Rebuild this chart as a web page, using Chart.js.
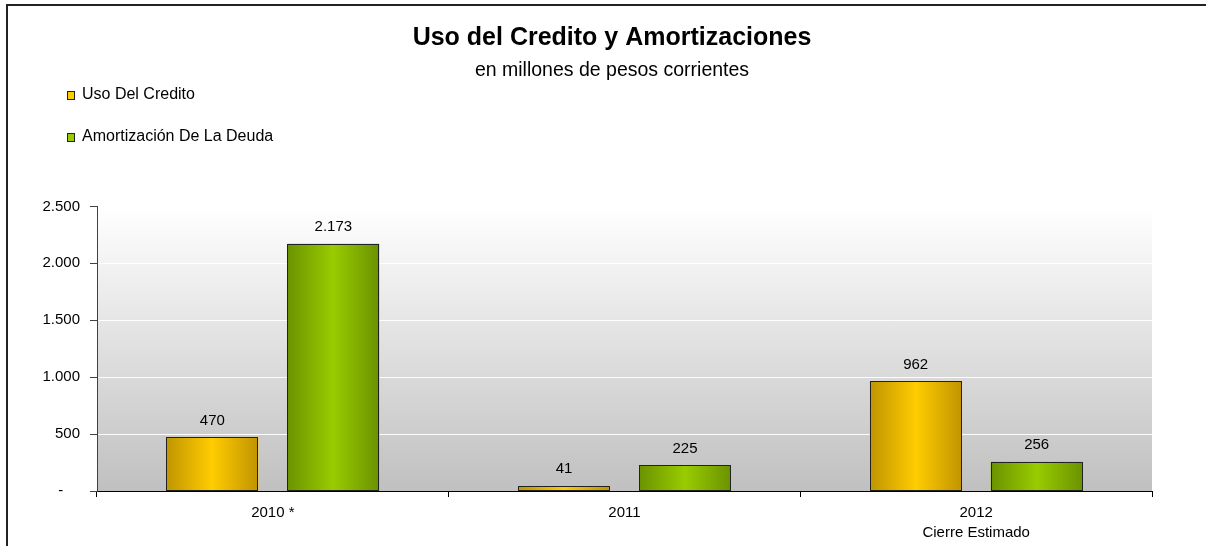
<!DOCTYPE html>
<html>
<head>
<meta charset="utf-8">
<script src="https://cdn.jsdelivr.net/npm/chart.js@4.4.0/dist/chart.umd.min.js"></script>
<style>
  html, body { margin: 0; padding: 0; background: #fff; }
</style>
</head>
<body>
<canvas id="chart" width="1206" height="546"></canvas>
<script>
// data
const years = ['2010 *', '2011', ['2012', 'Cierre Estimado']];
const usoCredito = [470, 41, 962];
const amortizacion = [2173, 225, 256];
const yMax = 2500;
const yStep = 500;

const seriesNames = ['Uso Del Credito', 'Amortización De La Deuda'];
const solid = ['#ffcc00', '#99cc00'];
const shade = [
    ['#c09400', '#ffcc00', '#c09400'],
    ['#6b9200', '#99cc00', '#6b9200']
];

Chart.defaults.font.family = '"Liberation Sans", Arial, sans-serif';
Chart.defaults.color = '#000';

function fmt(v) {
    return String(v).replace(/\B(?=(\d{3})+(?!\d))/g, '.');
}

const paint = {
    id: 'paint',
    afterLayout(chart) {
        // widen the y axis box to the left so its labels are not clipped
        const y = chart.scales.y;
        y.left = 18;
        y.width = y.right - y.left;
    },
    beforeDraw(chart) {
        const ctx = chart.ctx;
        const a = chart.chartArea;
        ctx.save();
        const g = ctx.createLinearGradient(0, a.top, 0, a.bottom);
        g.addColorStop(0, '#ffffff');
        g.addColorStop(1, '#c0c0c0');
        ctx.fillStyle = g;
        ctx.fillRect(a.left, a.top, a.right - a.left, a.bottom - a.top);
        // outer frame, top and left
        ctx.strokeStyle = '#222';
        ctx.lineWidth = 2;
        ctx.beginPath();
        ctx.moveTo(7, chart.height);
        ctx.lineTo(7, 5);
        ctx.lineTo(chart.width, 5);
        ctx.stroke();
        ctx.restore();
    },
    afterDatasetsDraw(chart) {
        const ctx = chart.ctx;
        ctx.save();
        chart.data.datasets.forEach((ds, i) => {
            const meta = chart.getDatasetMeta(i);
            meta.data.forEach((el, j) => {
                const p = el.getProps(['x', 'y', 'base', 'width'], true);
                const left = Math.round(p.x - p.width / 2);
                const w = Math.round(p.width);
                const top = Math.round(p.y);
                const h = Math.round(p.base) - top;
                const g = ctx.createLinearGradient(left, 0, left + w, 0);
                g.addColorStop(0, shade[i][0]);
                g.addColorStop(0.5, shade[i][1]);
                g.addColorStop(1, shade[i][2]);
                ctx.fillStyle = g;
                ctx.fillRect(left, top, w, h);
                ctx.strokeStyle = '#222';
                ctx.lineWidth = 1;
                ctx.strokeRect(left + 0.5, top + 0.5, w - 1, h - 1);

                ctx.fillStyle = '#000';
                ctx.font = '15px "Liberation Sans", Arial, sans-serif';
                ctx.textAlign = 'center';
                ctx.textBaseline = 'middle';
                ctx.fillText(fmt(ds.data[j]), p.x, p.y - 17);
            });
        });
        ctx.restore();
    },
    afterDraw(chart) {
        // legend, stacked in the top-left corner
        const ctx = chart.ctx;
        ctx.save();
        ctx.font = '16px "Liberation Sans", Arial, sans-serif';
        ctx.textAlign = 'left';
        ctx.textBaseline = 'middle';
        chart.data.datasets.forEach((ds, i) => {
            const cy = 95 + i * 42;
            ctx.fillStyle = solid[i];
            ctx.fillRect(67, cy - 4, 8, 9);
            ctx.strokeStyle = '#222';
            ctx.lineWidth = 1;
            ctx.strokeRect(67.5, cy - 3.5, 7, 8);
            ctx.fillStyle = '#000';
            ctx.fillText(ds.label, 82, cy);
        });
        ctx.restore();
    }
};

new Chart(document.getElementById('chart'), {
    type: 'bar',
    data: {
        labels: years,
        datasets: [
            {
                label: seriesNames[0],
                data: usoCredito,
                backgroundColor: solid[0],
                borderWidth: 0,
                categoryPercentage: 0.688,
                barPercentage: 0.76
            },
            {
                label: seriesNames[1],
                data: amortizacion,
                backgroundColor: solid[1],
                borderWidth: 0,
                categoryPercentage: 0.688,
                barPercentage: 0.76
            }
        ]
    },
    options: {
        responsive: false,
        animation: false,
        layout: { padding: { left: 72, right: 54, top: 0, bottom: 0 } },
        plugins: {
            legend: { display: false },
            tooltip: { enabled: false },
            title: {
                display: true,
                text: 'Uso del Credito y Amortizaciones',
                color: '#000',
                font: { size: 25, weight: 'bold' },
                padding: { top: 23.5, bottom: 0 }
            },
            subtitle: {
                display: true,
                text: 'en millones de pesos corrientes',
                color: '#000',
                font: { size: 19.5 },
                padding: { top: 5.5, bottom: 124 }
            }
        },
        scales: {
            x: {
                grid: { offset: true, drawOnChartArea: false, tickLength: 6, tickColor: '#000' },
                border: { color: '#000' },
                ticks: { color: '#000', font: { size: 15, lineHeight: 1.33 }, padding: 6 },
                afterFit: s => { s.height = 55; }
            },
            y: {
                min: 0,
                max: yMax,
                ticks: {
                    stepSize: yStep,
                    color: '#000',
                    font: { size: 15 },
                    padding: 10,
                    callback: v => v === 0 ? '-    ' : fmt(v)
                },
                grid: {
                    color: c => c.tick && c.tick.value === 0 ? 'rgba(0,0,0,0)' : 'rgba(255,255,255,0.95)',
                    tickColor: '#404040',
                    tickLength: 7
                },
                border: { color: '#404040' },
                afterFit: s => { s.width = 25; }
            }
        }
    },
    plugins: [paint]
});
</script>
</body>
</html>
